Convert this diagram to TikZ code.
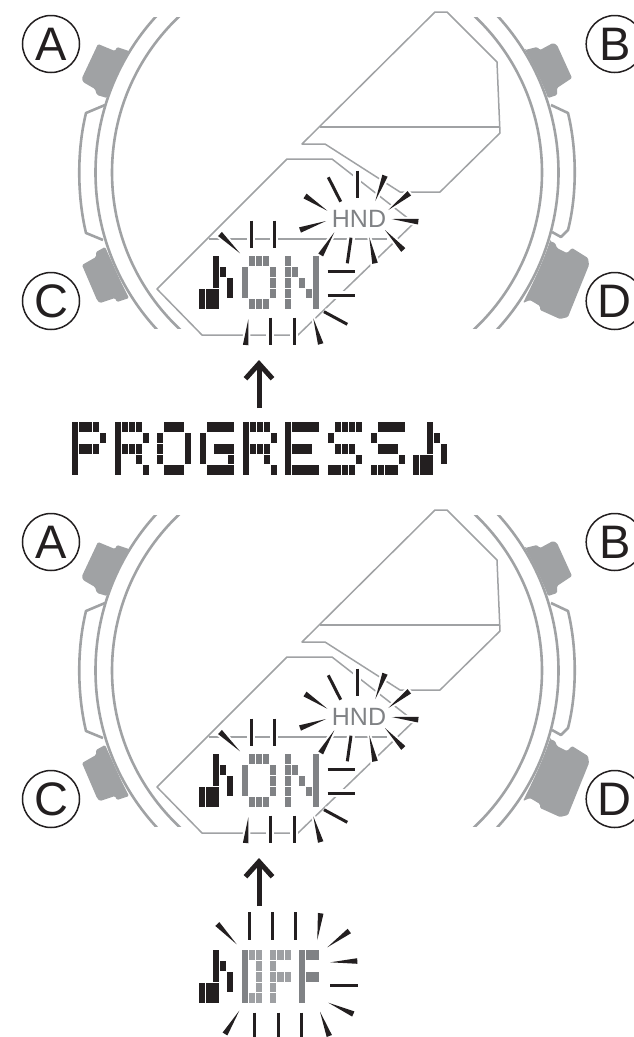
\documentclass[tikz,border=0pt]{standalone}
\usepackage{fontspec}
\setmainfont{Liberation Sans}
\usepackage{xcolor}
\usetikzlibrary{arrows.meta,calc}
\definecolor{casegray}{RGB}{160, 162, 164}
\definecolor{lcdgray}{RGB}{128, 130, 133}
\definecolor{lcdlight}{RGB}{158, 160, 163}
\definecolor{inkblack}{RGB}{35, 31, 32}
\tikzset{
  caseline/.style={draw=casegray, line width=2.6pt},
  lcdline/.style={draw=casegray, line width=1.5pt, line join=round},
  pushbutton/.style={fill=casegray, rounded corners=1.2pt},
  rayline/.style={draw=inkblack, line width=3pt, preaction={draw=white, line width=8pt}},
  raywedge/.style={fill=inkblack, preaction={draw=white, line width=4pt}},
  buttonlabel/.style={circle, draw=inkblack, line width=1.5pt, minimum size=57pt, inner sep=0pt, text=inkblack, font=\fontsize{47}{47}\selectfont},
  lcdword/.style={text opacity=0, inner sep=0pt},
  uparrow/.style={draw=inkblack, line width=5pt, -{Straight Barb[length=15pt, width=27pt, line width=5pt]}}
}
\newcommand{\lcdcells}[4]{%
  \edef\celllist{#4}%
  \begin{scope}[shift={(#1,#2)}, x=7.05pt, y=-10.87pt]
    \foreach \ca/\ra/\cb/\rb in \celllist {
      \fill[#3, draw=white, line width=0.2pt] (\ca,\ra) rectangle (\cb+1,\rb+1);
    }
  \end{scope}}
\newcommand{\straightrays}[1]{%
  \edef\raylist{#1}%
  \foreach \xa/\ya/\xb/\yb in \raylist {
    \draw[rayline] (\xa,\ya) -- (\xb,\yb);
  }}
\newcommand{\wedgerays}[1]{%
  \edef\raylist{#1}%
  \foreach \xa/\ya/\xb/\yb in \raylist {
    \fill[raywedge] ($(\xa,\ya)!2.8pt!90:(\xb,\yb)$) -- ($(\xa,\ya)!2.8pt!-90:(\xb,\yb)$) -- (\xb,\yb) -- cycle;
  }}
\newcommand{\glyphnote}{0/3/0/4, 1/3/2/4, 2/0/2/2, 3/1/3/1, 4/2/4/3}
\newcommand{\glyphR}{0/0/0/4, 1/0/1/0, 2/0/2/0, 3/0/3/0, 4/1/4/1, 1/2/1/2, 2/2/2/2, 3/2/3/2, 3/3/3/3, 4/4/4/4}
\begin{document}
\begin{tikzpicture}[x=1pt, y=-1pt, >=Latex]
  \useasboundingbox (0,0) rectangle (634,1037);
  \foreach \dy in {0, 498} {
    \begin{scope}[shift={(0,\dy)}]
      \begin{scope}
        \clip (0,17) rectangle (634,328);
        \draw[caseline] (327,172.5) circle [radius=215];
        \draw[caseline] (327,172.5) circle [radius=231.5];
      \end{scope}
      \draw[caseline, line join=round] (105,105) -- (86,113) .. controls (77,150) and (77,195) .. (86,233) -- (103,240);
      \draw[caseline, line join=round] (551,105) -- (568,113) .. controls (577,150) and (577,195) .. (568,230) -- (561,237) -- (552,232);
      \fill[pushbutton] (98,44) -- (115,51) -- (117,47) -- (129,51) .. controls (121,66) and (113,82) .. (107,98) -- (97,95) -- (95,89) -- (83,82) -- (82,78) -- cycle;
      \fill[pushbutton] (82,265) -- (96,257) -- (96,252) -- (105,247) .. controls (113,264) and (120,281) .. (129,298) -- (117,302) -- (115,298) -- (100,303) -- (97,300) -- cycle;
      \fill[pushbutton] (525,50) -- (537,47) -- (540,50) -- (553,43) -- (557,45) -- (572,78) -- (557,88) -- (557,95) -- (548,98) .. controls (542,82) and (534,66) .. cycle;
      \fill[pushbutton] (550,241) -- (555,243) -- (557,248) -- (567,253) -- (572,248) -- (588,258) -- (589,265) -- (568,317) -- (560,319) -- (540,310) -- (540,306) -- (530,300) -- (523,303) .. controls (533,283) and (543,262) .. cycle;
      \draw[lcdline] (435,12) -- (447,12) -- (497,62) -- (500,133) -- (440,192) -- (400,192) -- (325,144) -- (302,144) -- cycle;
      \draw[casegray, line width=2.1pt] (320,127) -- (499,127);
      \draw[lcdline] (287,159) -- (332,159) -- (414,223) -- (298,335) -- (202,335) -- (157,289) -- cycle;
      \draw[casegray, line width=2.8pt] (209,239) -- (387,239);
      \straightrays{328.3/177.3/340.7/201.7, 357.3/170.7/357.3/198.3, 347.3/263.3/351/237.7, 251/220.7/251/248.3, 274.3/220.7/274.3/248.3, 327.7/271.3/355/271.3, 327.7/295/355/295, 324/311.7/347.3/324.3, 294/317.7/294/345, 270/317.7/270/345}
      \wedgerays{385/175.7/375.3/201, 409.3/193.3/388.3/210, 418.3/221.7/391.7/219, 403.3/250/385/230, 375/263.3/369.3/237.3, 320.7/255/334.3/232.3, 300/230/326/221, 305/196/327.3/210.7, 220/234/240/253.3, 320.7/344/313.3/318.3, 245.7/345/248.3/319.3}
      \lcdcells{198}{255}{inkblack}{\glyphnote}
      \lcdcells{241}{255}{lcdgray}{1/0/1/0, 2/0/2/0, 3/0/3/0, 1/4/1/4, 2/4/2/4, 3/4/3/4, 0/1/0/3, 4/1/4/1, 4/2/4/2, 4/3/4/3}
      \lcdcells{283.7}{255}{lcdgray}{0/0/0/0, 0/1/0/1, 0/2/0/2, 0/3/0/3, 0/4/0/4, 1/1/1/1, 2/2/2/2, 3/3/3/3, 4/0/4/4}
      \node[lcdword, font=\fontsize{52}{52}\selectfont] (onword\dy) at (280,282.5) {ON};
      \node[text=lcdgray, inner sep=0pt, font=\fontsize{25}{25}\selectfont] (hndword\dy) at (359,218.7) {HND};
      \node[buttonlabel] (buttona\dy) at (51,44) {A};
      \node[buttonlabel] (buttonb\dy) at (614.7,44) {B};
      \node[buttonlabel] (buttonc\dy) at (51,301) {C};
      \node[buttonlabel] (buttond\dy) at (614.7,301) {D};
    \end{scope}
  }
  \coordinate (tailone) at (259,408);
  \coordinate (tipone) at (259,360);
  \draw[uparrow] (tailone) -- (tipone);
  \coordinate (tailtwo) at (259,906);
  \coordinate (tiptwo) at (259,858);
  \draw[uparrow] (tailtwo) -- (tiptwo);
  \lcdcells{71}{421}{inkblack}{0/0/0/4, 1/0/2/0, 3/0/3/0, 4/1/4/1, 1/2/2/2, 3/2/3/2}
  \lcdcells{113.67}{421}{inkblack}{\glyphR}
  \lcdcells{156.33}{421}{inkblack}{0/1/0/1, 0/2/0/2, 0/3/0/3, 1/0/3/0, 1/4/3/4, 4/1/4/3}
  \lcdcells{199}{421}{inkblack}{0/1/0/3, 1/0/4/0, 2/2/4/2, 4/3/4/3, 1/4/4/4}
  \lcdcells{241.67}{421}{inkblack}{\glyphR}
  \lcdcells{284.33}{421}{inkblack}{0/0/0/4, 1/0/4/0, 1/2/3/2, 1/4/4/4}
  \lcdcells{327}{421}{inkblack}{1/0/1/0, 2/0/2/0, 3/0/3/0, 4/0/4/0, 0/1/0/1, 1/2/1/2, 2/2/2/2, 3/2/3/2, 4/3/4/3, 0/4/1/4, 2/4/2/4, 3/4/3/4}
  \lcdcells{369.67}{421}{inkblack}{1/0/4/0, 0/1/0/1, 1/2/3/2, 4/3/4/3, 0/4/0/4, 1/4/1/4, 2/4/3/4}
  \lcdcells{412.33}{421}{inkblack}{\glyphnote}
  \node[lcdword, font=\fontsize{60}{60}\selectfont] (progressword) at (259,448) {PROGRESS};
  \straightrays{249/912.3/249/940, 272.3/912.3/272.3/940, 295.7/912.3/295.7/940, 357.7/985/330.3/985, 301.7/1012.7/301.7/1036.7, 278/1012.7/278/1036.7, 254.7/1012.7/254.7/1036.7}
  \wedgerays{217.3/924/236.7/944.3, 320.7/913.3/317.3/940, 349.3/931/327.3/947.3, 357.3/961/330.3/962.3, 353.3/1014/328.3/1002.7, 329.3/1036/320/1011.7, 225/1034/239.3/1010.7}
  \lcdcells{198}{949}{inkblack}{\glyphnote}
  \lcdcells{241}{949}{lcdgray}{0/0/0/4}
  \lcdcells{241}{949}{lcdlight}{1/0/1/0, 2/0/2/0, 2/1/2/1, 2/2/2/2, 2/3/2/3, 1/4/1/4, 2/4/2/4}
  \lcdcells{269.5}{949}{lcdlight}{0/0/0/0, 0/1/0/1, 0/2/0/2, 0/3/0/3, 0/4/0/4, 1/0/1/0, 2/0/2/0, 1/2/1/2, 2/2/2/2}
  \lcdcells{298}{949}{lcdgray}{0/0/0/4, 1/0/2/0, 1/2/2/2}
  \node[lcdword, font=\fontsize{39}{39}\selectfont] (offword) at (280,976) {OFF};
\end{tikzpicture}
\end{document}
